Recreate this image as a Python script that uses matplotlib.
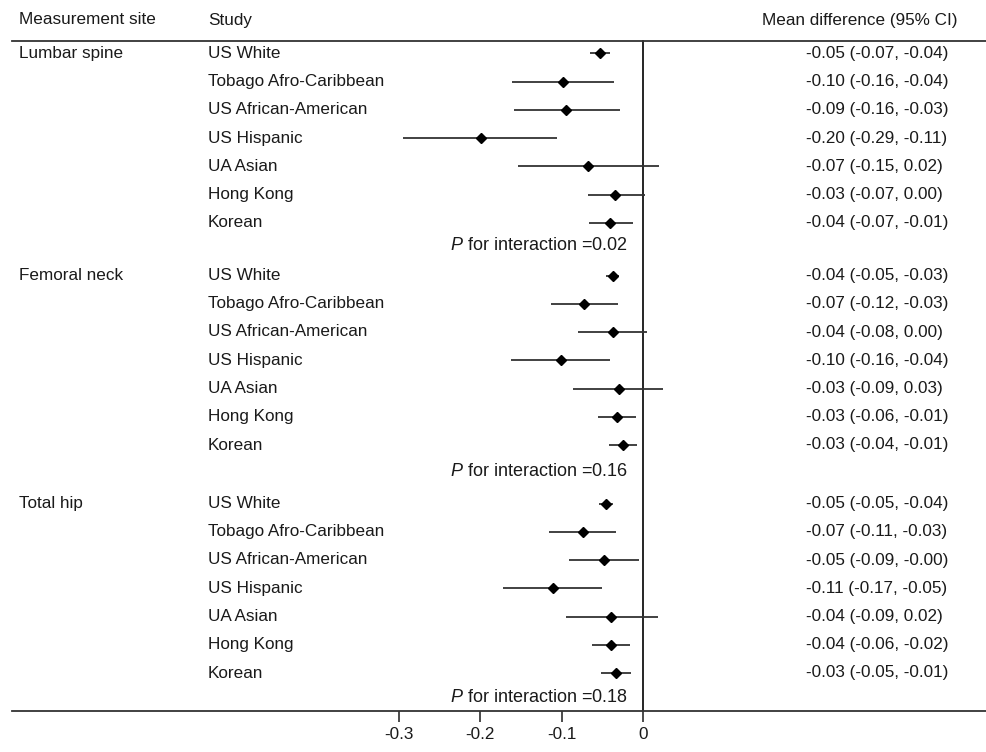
import matplotlib
matplotlib.use("Agg")
import matplotlib.pyplot as plt

# ---------------- data ----------------
sites = ["Lumbar spine", "Femoral neck", "Total hip"]
studies = ["US White", "Tobago Afro-Caribbean", "US African-American",
           "US Hispanic", "UA Asian", "Hong Kong", "Korean"]

lumbar_mean = [-0.053, -0.098, -0.094, -0.199, -0.067, -0.034, -0.041]
lumbar_lo = [-0.065, -0.161, -0.158, -0.294, -0.153, -0.068, -0.066]
lumbar_hi = [-0.041, -0.035, -0.028, -0.106, 0.020, 0.003, -0.012]
lumbar_text = ["-0.05 (-0.07, -0.04)", "-0.10 (-0.16, -0.04)", "-0.09 (-0.16, -0.03)",
               "-0.20 (-0.29, -0.11)", "-0.07 (-0.15, 0.02)", "-0.03 (-0.07, 0.00)",
               "-0.04 (-0.07, -0.01)"]

femoral_mean = [-0.037, -0.072, -0.037, -0.101, -0.030, -0.032, -0.025]
femoral_lo = [-0.045, -0.113, -0.080, -0.162, -0.086, -0.055, -0.042]
femoral_hi = [-0.029, -0.031, 0.005, -0.041, 0.025, -0.009, -0.007]
femoral_text = ["-0.04 (-0.05, -0.03)", "-0.07 (-0.12, -0.03)", "-0.04 (-0.08, 0.00)",
                "-0.10 (-0.16, -0.04)", "-0.03 (-0.09, 0.03)", "-0.03 (-0.06, -0.01)",
                "-0.03 (-0.04, -0.01)"]

hip_mean = [-0.045, -0.074, -0.048, -0.111, -0.039, -0.039, -0.033]
hip_lo = [-0.054, -0.115, -0.091, -0.172, -0.095, -0.063, -0.051]
hip_hi = [-0.037, -0.033, -0.005, -0.050, 0.018, -0.016, -0.015]
hip_text = ["-0.05 (-0.05, -0.04)", "-0.07 (-0.11, -0.03)", "-0.05 (-0.09, -0.00)",
            "-0.11 (-0.17, -0.05)", "-0.04 (-0.09, 0.02)", "-0.04 (-0.06, -0.02)",
            "-0.03 (-0.05, -0.01)"]

p_values = ["0.02", "0.16", "0.18"]
xticks = [-0.3, -0.2, -0.1, 0]
xtick_labels = ["-0.3", "-0.2", "-0.1", "0"]

headers = ["Measurement site", "Study", "Mean difference (95% CI)"]

# ---------------- layout ----------------
W, H = 986, 752
plt.rcParams["font.family"] = ["Liberation Sans", "DejaVu Sans"]
plt.rcParams["mathtext.fontset"] = "custom"
plt.rcParams["mathtext.it"] = "Liberation Sans:italic"
plt.rcParams["mathtext.rm"] = "Liberation Sans"
FS = 12.3
TXT = "#1a1a1a"
LINE = "#333333"

fig = plt.figure(figsize=(W / 100, H / 100), dpi=100)
x_left_px, zero_px, px_per_unit = 12, 643, 815.0
bottom_px, top_line_px = 710.7, 40.7
ax = fig.add_axes([x_left_px / W, (H - bottom_px) / H, (W - x_left_px) / W, bottom_px / H])
ax.set_xlim((x_left_px - zero_px) / px_per_unit, (W - zero_px) / px_per_unit)
ax.set_ylim(bottom_px, 0)


def px2x(px):
    return (px - zero_px) / px_per_unit


group_start = [53.3, 275.5, 503.5]
row_step = 28.25
p_y = [245.5, 471.5, 697.0]

groups = [
    (lumbar_mean, lumbar_lo, lumbar_hi, lumbar_text),
    (femoral_mean, femoral_lo, femoral_hi, femoral_text),
    (hip_mean, hip_lo, hip_hi, hip_text),
]

for g, (m, lo, hi, txt) in enumerate(groups):
    ys = [group_start[g] + i * row_step for i in range(len(studies))]
    ax.hlines(ys, lo, hi, color=LINE, lw=1.3, zorder=2)
    ax.plot(m, ys, ls="none", marker="D", ms=4.6, color="black", zorder=3)
    ax.text(px2x(19), ys[0], sites[g], ha="left", va="center", fontsize=FS, color=TXT)
    for i, y in enumerate(ys):
        ax.text(px2x(208), y, studies[i], ha="left", va="center", fontsize=FS, color=TXT)
        ax.text(px2x(806), y, txt[i], ha="left", va="center", fontsize=FS, color=TXT)
    ax.text(px2x(628), p_y[g], r"$P$ for interaction =" + p_values[g],
            ha="right", va="center", fontsize=13, color=TXT)

# headers
ax.text(px2x(19), 20, headers[0], ha="left", va="center", fontsize=FS, color=TXT)
ax.text(px2x(208), 20, headers[1], ha="left", va="center", fontsize=FS, color=TXT)
ax.text(px2x(958), 20, headers[2], ha="right", va="center", fontsize=FS, color=TXT)

# rules
ax.axhline(top_line_px, color=LINE, lw=1.3, clip_on=False)
ax.plot([0, 0], [top_line_px, bottom_px], color="black", lw=1.2, zorder=1)

for s in ["top", "left", "right"]:
    ax.spines[s].set_visible(False)
ax.spines["bottom"].set_color(LINE)
ax.spines["bottom"].set_linewidth(1.3)
ax.set_yticks([])
ax.set_xticks(xticks)
ax.set_xticklabels(xtick_labels)
ax.tick_params(axis="x", direction="out", length=8, width=1.1, pad=4,
               labelsize=FS, colors=TXT)
ax.patch.set_visible(False)

fig.savefig("out.png", dpi=100)
